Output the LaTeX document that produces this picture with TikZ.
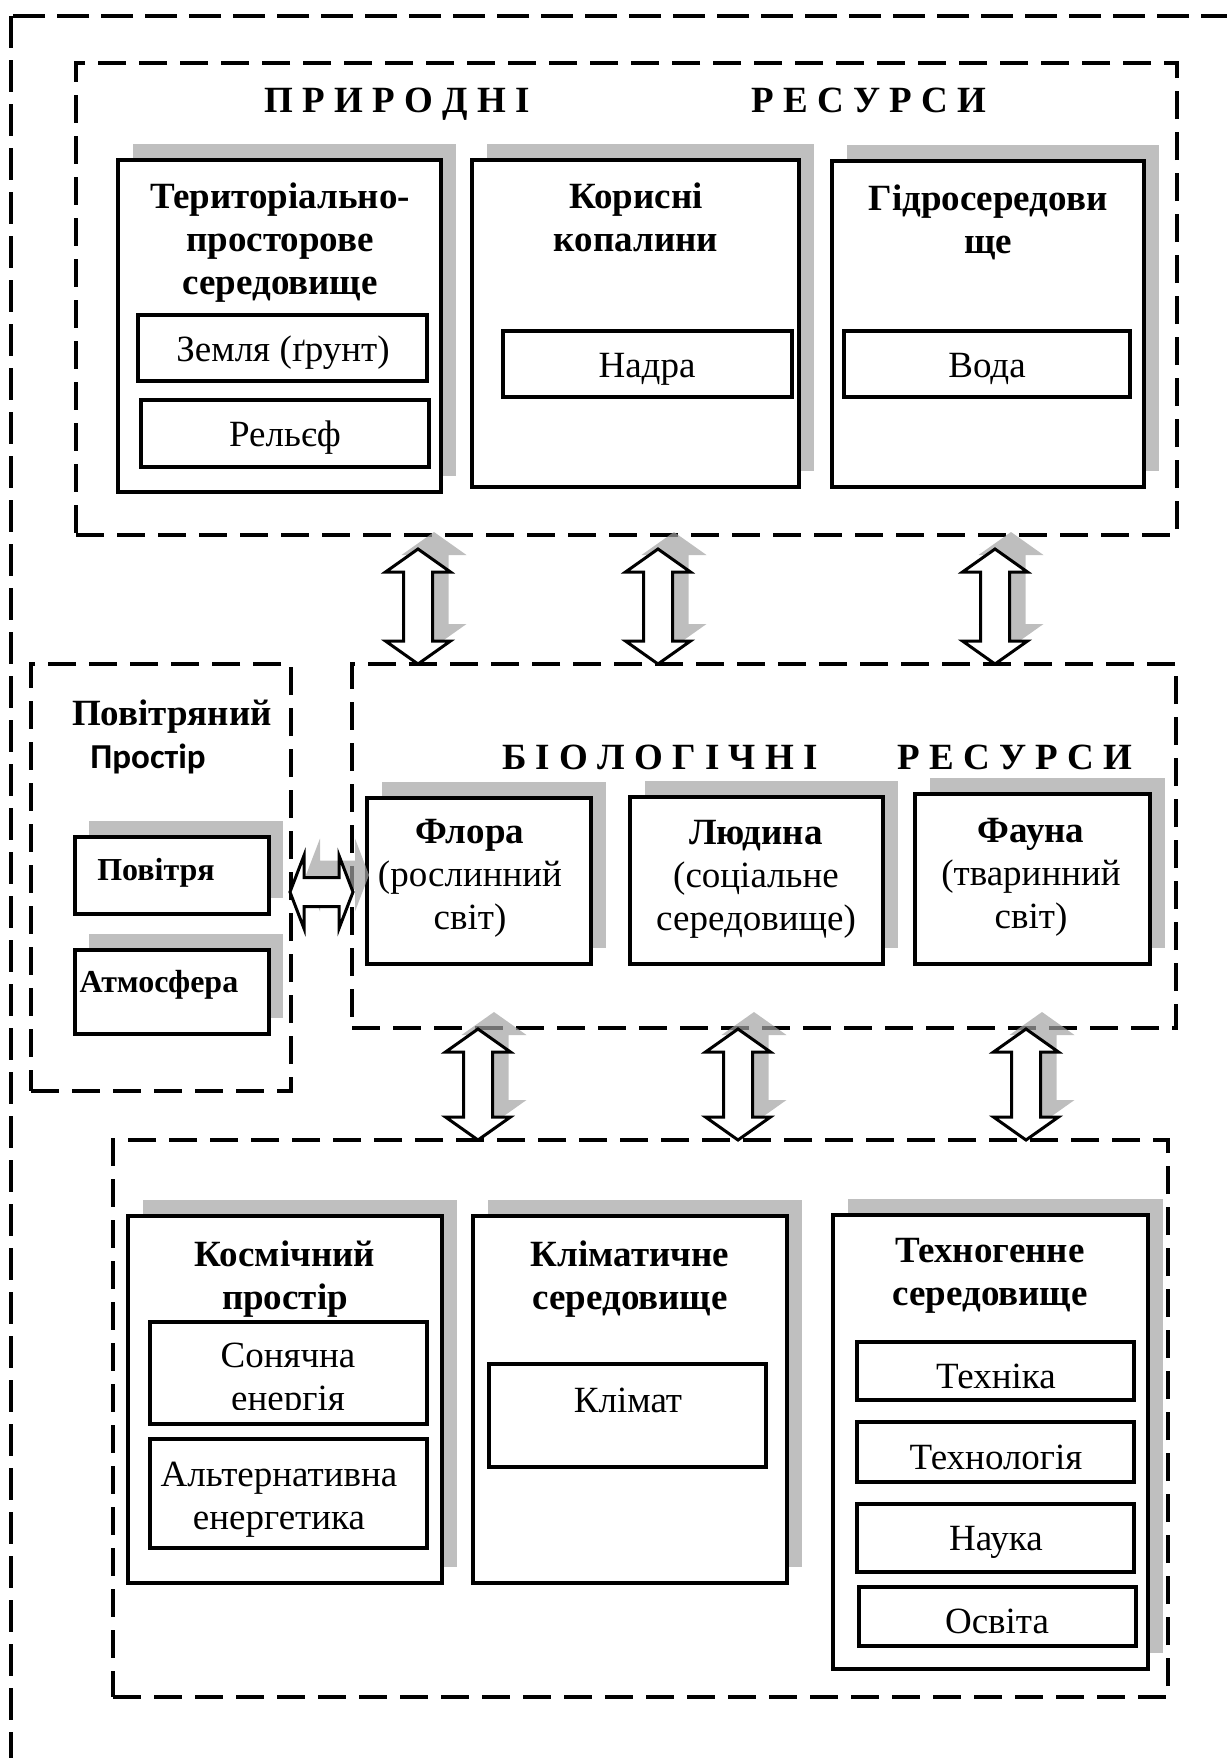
\documentclass[tikz,border=0pt]{standalone}
\usepackage{fontspec}
\setmainfont{Liberation Serif}
\newfontfamily\carlito{Carlito}
\usetikzlibrary{positioning, fit, shadows}

\newcommand{\bodysize}{\fontsize{18.5}{21.5}\selectfont}
\newcommand{\smallbold}{\fontsize{16}{19}\selectfont\bfseries}
\newcommand{\updownshape}[1]{(0,0) -- (32.5,23) -- (14.5,23) -- (14.5,#1-23) -- (32.5,#1-23) -- (0,#1) -- (-32.5,#1-23) -- (-14.5,#1-23) -- (-14.5,23) -- (-32.5,23) -- cycle}
\newcommand{\sidewayshape}[1]{(0,0) -- (14,-36.5) -- (14,-14.5) -- (#1-14,-14.5) -- (#1-14,-36.5) -- (#1,0) -- (#1-14,36.5) -- (#1-14,14.5) -- (14,14.5) -- (14,36.5) -- cycle}

\tikzset{
  pics/updown/.style={code={
      \fill[arrowshade, shift={(16,-17)}] \updownshape{#1};
      \draw[blockarrow] \updownshape{#1};
  }},
  pics/sideway/.style={code={
      \fill[arrowshade, shift={(16,-17)}] \sidewayshape{#1};
      \draw[blockarrow] \sidewayshape{#1};
  }}
}

\begin{document}
\begin{tikzpicture}[
      x=0.5pt, y=-0.5pt,
      font=\bodysize,
      frame/.style={line width=2pt, dash pattern=on 16pt off 6pt},
      group/.style={draw, line width=1.8pt, dash pattern=on 14pt off 6.5pt, inner sep=0pt},
      panel/.style={draw, line width=2pt, fill=white, inner sep=0pt,
         drop shadow={shadow xshift=7.5pt, shadow yshift=8pt, fill=black!25, opacity=1}},
      item/.style={draw, line width=1.6pt, fill=white, inner sep=0pt},
      shadowbox/.style={item, line width=2pt,
         drop shadow={shadow xshift=7pt, shadow yshift=8pt, fill=black!25, opacity=1}},
      spaced/.style={font=\bodysize\bfseries, anchor=base, inner sep=0pt},
      title/.style={font=\bodysize\bfseries, align=center, anchor=north, inner sep=0pt},
      lines/.style={align=center, anchor=north, inner sep=0pt},
      word/.style={anchor=base, inner sep=0pt},
      blockarrow/.style={draw, line width=1.5pt, fill=white},
      arrowshade/.style={fill=black!36, opacity=0.7}
   ]
   \useasboundingbox (0,0) rectangle (1227,1758);
   \draw[frame] (11,16) rectangle (1400,1900);

   % Natural resources
   \node[group, fit={(76,63) (1177,535)}] (nat) {};
   \node[spaced] (natl) at (397,112) {П Р И Р О Д Н І};
   \node[spaced] (natr) at (869,112) {Р Е С У Р С И};

   \node[panel, fit={(118,160) (441,492)}] (terr) {};
   \node[title] (terrt) at (280,182) {Територіально-\\просторове\\середовище};
   \node[item, fit={(138,315) (427,381)}] (soil) {};
   \node[word] (soilt) at (283,361) {Земля (ґрунт)};
   \node[item, fit={(141,400) (429,467)}] (relief) {};
   \node[word] (relieft) at (285,446) {Рельєф};

   \node[panel, fit={(472,160) (799,487)}] (mine) {};
   \node[title] (minet) at (636,182) {Корисні\\копалини};
   \node[item, fit={(503,331) (792,397)}] (depth) {};
   \node[word] (deptht) at (647,377) {Надра};

   \node[panel, fit={(832,161) (1144,487)}] (hydro) {};
   \node[title] (hydrot) at (988,184) {Гідросередови\\ще};
   \node[item, fit={(844,331) (1130,397)}] (water) {};
   \node[word] (watert) at (987,377) {Вода};

   % Air space
   \node[group, fit={(31,664) (291,1091)}] (air) {};
   \node[spaced] (airt) at (172,725) {Повітряний};
   \node[word, font={\carlito\fontsize{17.5}{21}\selectfont\bfseries}] (airs) at (148,768) {Простір};
   \node[shadowbox, fit={(75,837) (269,914)}] (breath) {};
   \node[word, font=\smallbold] (breatht) at (156,880) {Повітря};
   \node[shadowbox, fit={(75,950) (269,1034)}] (atmo) {};
   \node[word, font=\smallbold] (atmot) at (159,992) {Атмосфера};

   % Biological resources
   \node[group, fit={(352,664) (1176,1028)}] (bio) {};
   \node[spaced] (biol) at (660,769) {Б І О Л О Г І Ч Н І};
   \node[spaced] (bior) at (1015,769) {Р Е С У Р С И};
   \node[panel, fit={(367,798) (591,964)}] (flora) {};
   \node[lines] (florat) at (470,819) {\textbf{Флора}\\(рослинний\\світ)};
   \node[panel, fit={(630,797) (883,964)}] (human) {};
   \node[lines] (humant) at (756,820) {\textbf{Людина}\\(соціальне\\середовище)};
   \node[panel, fit={(915,794) (1150,964)}] (fauna) {};
   \node[lines] (faunat) at (1031,818) {\textbf{Фауна}\\(тваринний\\світ)};

   % Environment
   \node[group, fit={(113,1140) (1168,1697)}] (env) {};
   \node[panel, fit={(128,1216) (442,1583)}] (cosmos) {};
   \node[title] (cosmost) at (285,1240) {Космічний\\простір};
   \node[item, fit={(150,1322) (427,1424)}] (sun) {};
   \begin{scope}
      \clip (150,1322) rectangle (427,1409);
      \node[lines] (sunt) at (288,1343) {Сонячна\\енергія};
   \end{scope}
   \node[item, fit={(150,1439) (427,1548)}] (alter) {};
   \node[lines] (altert) at (279,1462) {Альтернативна\\енергетика};

   \node[panel, fit={(473,1216) (787,1583)}] (clim) {};
   \node[title] (climt) at (630,1240) {Кліматичне\\середовище};
   \node[item, fit={(489,1364) (766,1467)}] (climate) {};
   \node[word] (climatet) at (628,1412) {Клімат};

   \node[panel, fit={(833,1215) (1148,1669)}] (techno) {};
   \node[title] (technot) at (990,1238) {Техногенне\\середовище};
   \node[item, fit={(857,1342) (1134,1400)}] (tech) {};
   \node[word] (techt) at (996,1388) {Техніка};
   \node[item, fit={(857,1422) (1134,1482)}] (techn) {};
   \node[word] (techntt) at (996,1469) {Технологія};
   \node[item, fit={(857,1504) (1134,1572)}] (science) {};
   \node[word] (sciencet) at (996,1550) {Наука};
   \node[item, fit={(859,1587) (1136,1646)}] (edu) {};
   \node[word] (edut) at (997,1633) {Освіта};

   % Two-way arrows
   \pic (a1) at (418,549) {updown=115};
   \pic (a2) at (658,549) {updown=115};
   \pic (a3) at (995,549) {updown=115};
   \pic (b1) at (478,1029) {updown=111};
   \pic (b2) at (738,1029) {updown=111};
   \pic (b3) at (1026,1029) {updown=111};
   \pic (c1) at (290,892) {sideway=63};
\end{tikzpicture}
\end{document}
